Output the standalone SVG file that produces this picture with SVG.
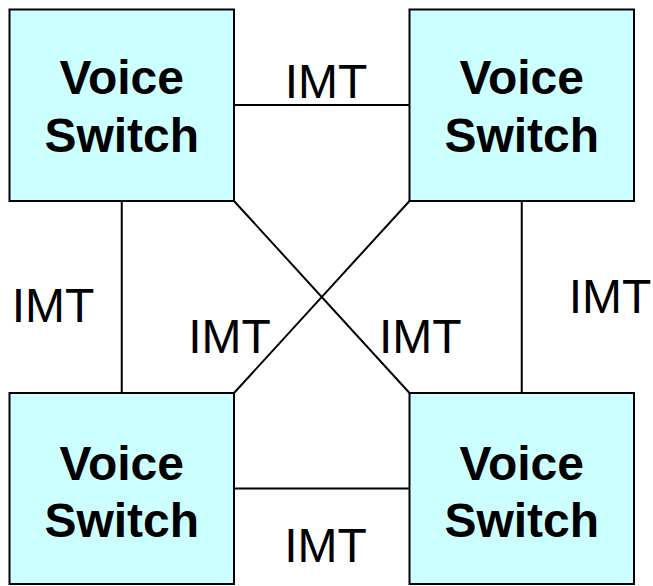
<svg xmlns="http://www.w3.org/2000/svg" width="653" height="586" viewBox="0 0 653 586">
<style>
.box{fill:#CCFFFF;stroke:#000;stroke-width:2}
.lbl{font-family:"Liberation Sans",Arial,sans-serif;font-weight:bold;font-size:48px;text-anchor:middle;fill:#000}
.imt{font-family:"Liberation Sans",Arial,sans-serif;font-size:48px;text-anchor:middle;fill:#000}
.con line{stroke:#000;stroke-width:2}
</style>
<rect width="653" height="586" fill="#fff"/>
<g id="connectors" class="con">
<line x1="234" y1="105" x2="409.5" y2="105"/>
<line x1="234" y1="488.5" x2="409.5" y2="488.5"/>
<line x1="121.75" y1="201" x2="121.75" y2="393"/>
<line x1="521.75" y1="201" x2="521.75" y2="393"/>
<line x1="234" y1="201" x2="409.5" y2="393"/>
<line x1="409.5" y1="201" x2="234" y2="393"/>
</g>
<g id="labels">
<text class="imt" x="326" y="97.7">IMT</text>
<text class="imt" x="53" y="321.7">IMT</text>
<text class="imt" x="610" y="313.3">IMT</text>
<text class="imt" x="325.5" y="561.7">IMT</text>
<text class="imt" x="229.6" y="353.3">IMT</text>
<text class="imt" x="420.3" y="353.3">IMT</text>
</g>
<g id="switch-tl">
<rect class="box" x="9.5" y="9.5" width="224.5" height="191.5"/>
<text class="lbl" x="121.75" y="94.3">Voice</text>
<text class="lbl" x="121.75" y="151.7">Switch</text>
</g>
<g id="switch-tr">
<rect class="box" x="409.5" y="9.5" width="224.5" height="191.5"/>
<text class="lbl" x="521.75" y="94.3">Voice</text>
<text class="lbl" x="521.75" y="151.7">Switch</text>
</g>
<g id="switch-bl">
<rect class="box" x="9.5" y="393" width="224.5" height="191"/>
<text class="lbl" x="121.75" y="479.5">Voice</text>
<text class="lbl" x="121.75" y="536.7">Switch</text>
</g>
<g id="switch-br">
<rect class="box" x="409.5" y="393" width="224.5" height="191"/>
<text class="lbl" x="521.75" y="479.5">Voice</text>
<text class="lbl" x="521.75" y="536.7">Switch</text>
</g>
</svg>
